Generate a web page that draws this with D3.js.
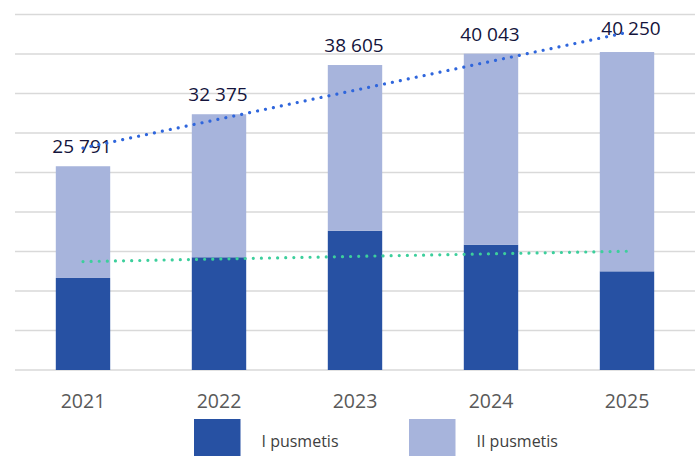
<!DOCTYPE html>
<html>
<head>
<meta charset="utf-8">
<script src="https://cdn.jsdelivr.net/npm/d3@7"></script>
<style>
  html, body { margin: 0; padding: 0; background: #fff; }
  svg { display: block; }
  text { font-family: "Open Sans", sans-serif; }
</style>
</head>
<body>
<svg id="chart" width="697" height="456"></svg>
<script>
const years = ["2021", "2022", "2023", "2024", "2025"];
const firstHalf = [11650, 14270, 17630, 15860, 12490];
const totals = [25791, 32375, 38605, 40043, 40250];
const seriesNames = ["I pusmetis", "II pusmetis"];
const yTicks = [0, 5000, 10000, 15000, 20000, 25000, 30000, 35000, 40000, 45000];

const secondHalf = totals.map((t, i) => t - firstHalf[i]);
const colors = ["#2751a3", "#a7b4dc"];

const svg = d3.select("#chart");
const plotLeft = 15, plotRight = 695, plotTop = 14.5, plotBottom = 370;

const x = d3.scaleBand().domain(years).range([plotLeft, plotRight]).paddingInner(0.6).paddingOuter(0.3);
const y = d3.scaleLinear().domain([0, 45000]).range([plotBottom, plotTop]);

// gridlines
svg.append("g").selectAll("line").data(yTicks).join("line")
  .attr("x1", plotLeft).attr("x2", plotRight)
  .attr("y1", d => y(d)).attr("y2", d => y(d))
  .attr("stroke", "#d9d9d9").attr("stroke-width", 1.6);

// stacked bars
const rows = years.map((yr, i) => ({ year: yr, a: firstHalf[i], b: secondHalf[i] }));
const stack = d3.stack().keys(["a", "b"])(rows);
svg.append("g").selectAll("g").data(stack).join("g")
  .attr("fill", (d, i) => colors[i])
  .selectAll("rect").data(d => d).join("rect")
  .attr("x", d => x(d.data.year))
  .attr("width", x.bandwidth())
  .attr("y", d => y(d[1]))
  .attr("height", d => y(d[0]) - y(d[1]));

// x axis labels
const xAxis = d3.axisBottom(x).tickSize(0).tickPadding(0);
const gx = svg.append("g").attr("transform", `translate(0,${plotBottom})`).call(xAxis);
gx.select(".domain").remove();
gx.selectAll("text")
  .attr("y", 38).attr("dy", null)
  .attr("fill", "#595959")
  .style("font-size", "19.5px")
  .style("font-family", "'Open Sans', sans-serif");

// linear trend helper
function trend(vals) {
  const xs = vals.map((_, i) => i + 1);
  const mx = d3.mean(xs), my = d3.mean(vals);
  const slope = d3.sum(xs.map((xi, i) => (xi - mx) * (vals[i] - my))) / d3.sum(xs.map(xi => (xi - mx) ** 2));
  return xs.map(xi => my + slope * (xi - mx));
}
const line = d3.line()
  .x((d, i) => x(years[i]) + x.bandwidth() / 2)
  .y(d => y(d));

svg.append("path").datum(trend(firstHalf))
  .attr("d", line).attr("fill", "none")
  .attr("stroke", "#3dcf9c").attr("stroke-width", 3.2)
  .attr("stroke-linecap", "round").attr("stroke-dasharray", "0.01 8.1");

// total labels
svg.append("g").selectAll("text").data(totals).join("text")
  .attr("x", (d, i) => x(years[i]) + x.bandwidth() / 2 + (i === totals.length - 1 ? 4 : -1))
  .attr("y", (d, i) => y(d) - (i === totals.length - 1 ? 17 : 13))
  .attr("text-anchor", "middle")
  .attr("fill", "#14143c")
  .style("font-size", "19px")
  .text(d => d3.format(",")(d).replace(/,/g, " "));

svg.append("path").datum(trend(totals))
  .attr("d", line).attr("fill", "none")
  .attr("stroke", "#2f66dc").attr("stroke-width", 3.2)
  .attr("stroke-linecap", "round").attr("stroke-dasharray", "0.01 8.1");

// legend
const legendX = [194, 409];
const lg = svg.append("g").selectAll("g").data(seriesNames).join("g")
  .attr("transform", (d, i) => `translate(${legendX[i]},419)`);
lg.append("rect").attr("width", 46.5).attr("height", 40).attr("fill", (d, i) => colors[i]);
lg.append("text").attr("x", 67.5).attr("y", 27.5)
  .attr("fill", "#404040")
  .style("font-size", "16px")
  .text(d => d);
</script>
</body>
</html>
